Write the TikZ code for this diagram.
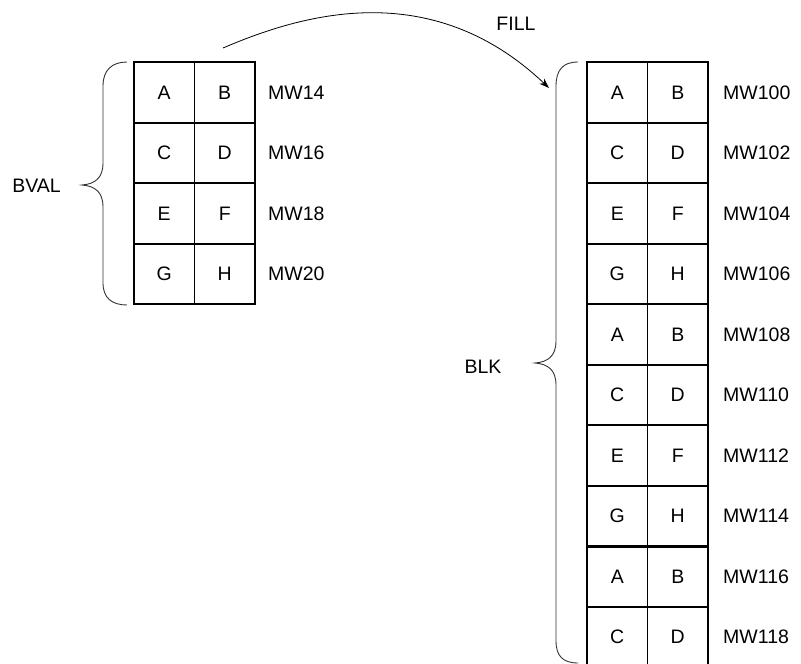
\documentclass[tikz,border=0pt]{standalone}
\usepackage{fontspec}
\setmainfont{Liberation Sans}
\usetikzlibrary{arrows.meta}
\begin{document}
\begin{tikzpicture}[x=1pt,y=-1pt,
  txt/.style={font=\fontsize{19.5}{23}\selectfont},
  cell/.style={txt,draw=black,line width=1.8pt,minimum width=60.5pt,minimum height=60.5pt,inner sep=0pt,outer sep=0pt},
  lbl/.style={txt,anchor=west,inner sep=0pt},
  side/.style={txt,inner sep=0pt},
  bracepath/.style={draw=black!80,line width=0.9pt},
  fillarrow/.style={draw=black,line width=0.8pt,-{Stealth[length=10pt,width=7pt]}},
]
\useasboundingbox (0,0) rectangle (801,664);
% left block
\foreach \a/\b [count=\i] in {A/B,C/D,E/F,G/H}{
  \pgfmathsetmacro\yy{92.5+(\i-1)*60.5}
  \pgfmathtruncatemacro\nn{12+2*\i}
  \node[cell] (L\i-a) at (164.25,\yy) {\a};
  \node[cell] (L\i-b) at (224.75,\yy) {\b};
  \node[lbl] (LM\i) at (268,\yy) {MW\nn};
}
% right block
\foreach \a/\b [count=\i] in {A/B,C/D,E/F,G/H,A/B,C/D,E/F,G/H,A/B,C/D}{
  \pgfmathsetmacro\yy{92.5+(\i-1)*60.5}
  \pgfmathtruncatemacro\nn{98+2*\i}
  \node[cell] (R\i-a) at (617.25,\yy) {\a};
  \node[cell] (R\i-b) at (677.75,\yy) {\b};
  \node[lbl] (RM\i) at (723,\yy) {MW\nn};
}
\draw[line width=3.5pt] (R8-a.south west) -- (R8-b.south east);
% braces
\draw[bracepath] (127,62) .. controls (112,62) and (103,70) .. (103,86)
  -- (103,163) .. controls (103,178) and (95,184) .. (82,185)
  .. controls (95,186) and (103,192) .. (103,207)
  -- (103,283) .. controls (103,298) and (112,305) .. (127,305);
\draw[bracepath] (578,62) .. controls (563,62) and (556,70) .. (556,86)
  -- (556,341) .. controls (556,356) and (548,362) .. (535,363)
  .. controls (548,364) and (556,370) .. (556,385)
  -- (556,641) .. controls (556,656) and (563,663) .. (578,663);
\node[side] (bval) at (36.5,185.5) {BVAL};
\node[side] (blk) at (483,367) {BLK};
% arrow
\coordinate (fs) at (223,48);
\coordinate (fe) at (549,88);
\draw[fillarrow] (fs) .. controls (300,15) and (430,-25) .. (fe);
\node[side] (fill) at (516,24) {FILL};
\end{tikzpicture}
\end{document}
